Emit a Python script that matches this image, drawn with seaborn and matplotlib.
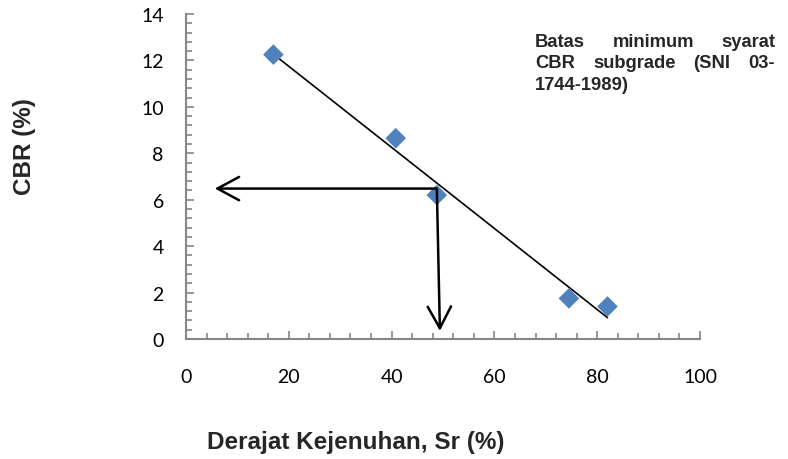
import matplotlib
matplotlib.use("Agg")
import matplotlib.pyplot as plt
import pandas as pd
import seaborn as sns
from matplotlib.ticker import AutoMinorLocator, MultipleLocator

# data hasil uji: derajat kejenuhan vs CBR
sr = [17.0, 40.8, 48.8, 74.5, 82.0]
cbr = [12.25, 8.65, 6.2, 1.75, 1.4]

# pembacaan batas minimum (panah)
baca_h_dari = (48.6, 6.48)
baca_h_ke = (5.6, 6.48)
baca_v_dari = (48.8, 6.48)
baca_v_ke = (49.4, 0.35)

catatan = [
    ["Batas", "minimum", "syarat"],
    ["CBR", "subgrade", "(SNI", "03-"],
    ["1744-1989)"],
]

GREY = "#868686"
BLUE = "#4F81BD"

sns.set_theme(style="white")
plt.rcParams["font.family"] = ["Lato", "DejaVu Sans"]

df = pd.DataFrame({"sr": sr, "cbr": cbr})

fig = plt.figure(figsize=(7.88, 4.6), dpi=100)
ax = fig.add_axes([186 / 788, 1 - 340 / 460, 514 / 788, 325 / 460])

sns.regplot(data=df, x="sr", y="cbr", ci=None, scatter=False, ax=ax,
            line_kws={"color": "black", "linewidth": 1.2})
sns.scatterplot(data=df, x="sr", y="cbr", marker="D", s=110, color=BLUE,
                edgecolor="none", ax=ax, zorder=3)

arrow = dict(arrowstyle="->, head_length=1.3, head_width=0.7", color="black",
             lw=1.8, shrinkA=0, shrinkB=0)
ax.annotate("", xy=baca_h_ke, xytext=baca_h_dari, arrowprops=arrow)
ax.annotate("", xy=baca_v_ke, xytext=baca_v_dari, arrowprops=arrow)

ax.set_xlim(0, 100)
ax.set_ylim(0, 14)
ax.xaxis.set_major_locator(MultipleLocator(20))
ax.yaxis.set_major_locator(MultipleLocator(2))
ax.xaxis.set_minor_locator(AutoMinorLocator(5))
ax.yaxis.set_minor_locator(AutoMinorLocator(5))
ax.tick_params(which="both", direction="in", color=GREY, width=1.2,
               labelsize=14, labelcolor="black", left=True, bottom=True)
ax.tick_params(which="major", length=6)
ax.tick_params(which="minor", length=4)
ax.tick_params(axis="x", pad=21)
ax.tick_params(axis="y", pad=16)
for side in ["top", "right"]:
    ax.spines[side].set_visible(False)
for side in ["left", "bottom"]:
    ax.spines[side].set_color(GREY)
    ax.spines[side].set_linewidth(1.5)
ax.set_xlabel("")
ax.set_ylabel("")

lbl = dict(fontsize=17.5, fontweight="bold", family=["Liberation Sans", "DejaVu Sans"])
fig.text(356 / 788, 1 - 443 / 460, "Derajat Kejenuhan, Sr (%)", ha="center", va="center", **lbl)
fig.text(25 / 788, 1 - 147 / 460, "CBR (%)", rotation=90, ha="center", va="center", **lbl)

# teks rata kiri-kanan, kata ditempatkan satu per satu
note = dict(fontsize=13.2, fontweight="bold", family=["Liberation Sans", "DejaVu Sans"])
x_kiri, x_kanan = 535, 775
baris_y = [47, 68.5, 90]
for kata, y in zip(catatan, baris_y):
    fy = 1 - y / 460
    if len(kata) == 1:
        fig.text(x_kiri / 788, fy, kata[0], ha="left", va="baseline", **note)
        continue
    texts = [fig.text(0, fy, k, va="baseline", **note) for k in kata]
    fig.canvas.draw()
    widths = [t.get_window_extent().width for t in texts]
    gap = (x_kanan - x_kiri - sum(widths)) / (len(kata) - 1)
    pos = x_kiri
    for t, w in zip(texts, widths):
        t.set_x(pos / 788)
        pos += w + gap

fig.savefig("out.png", dpi=100)
